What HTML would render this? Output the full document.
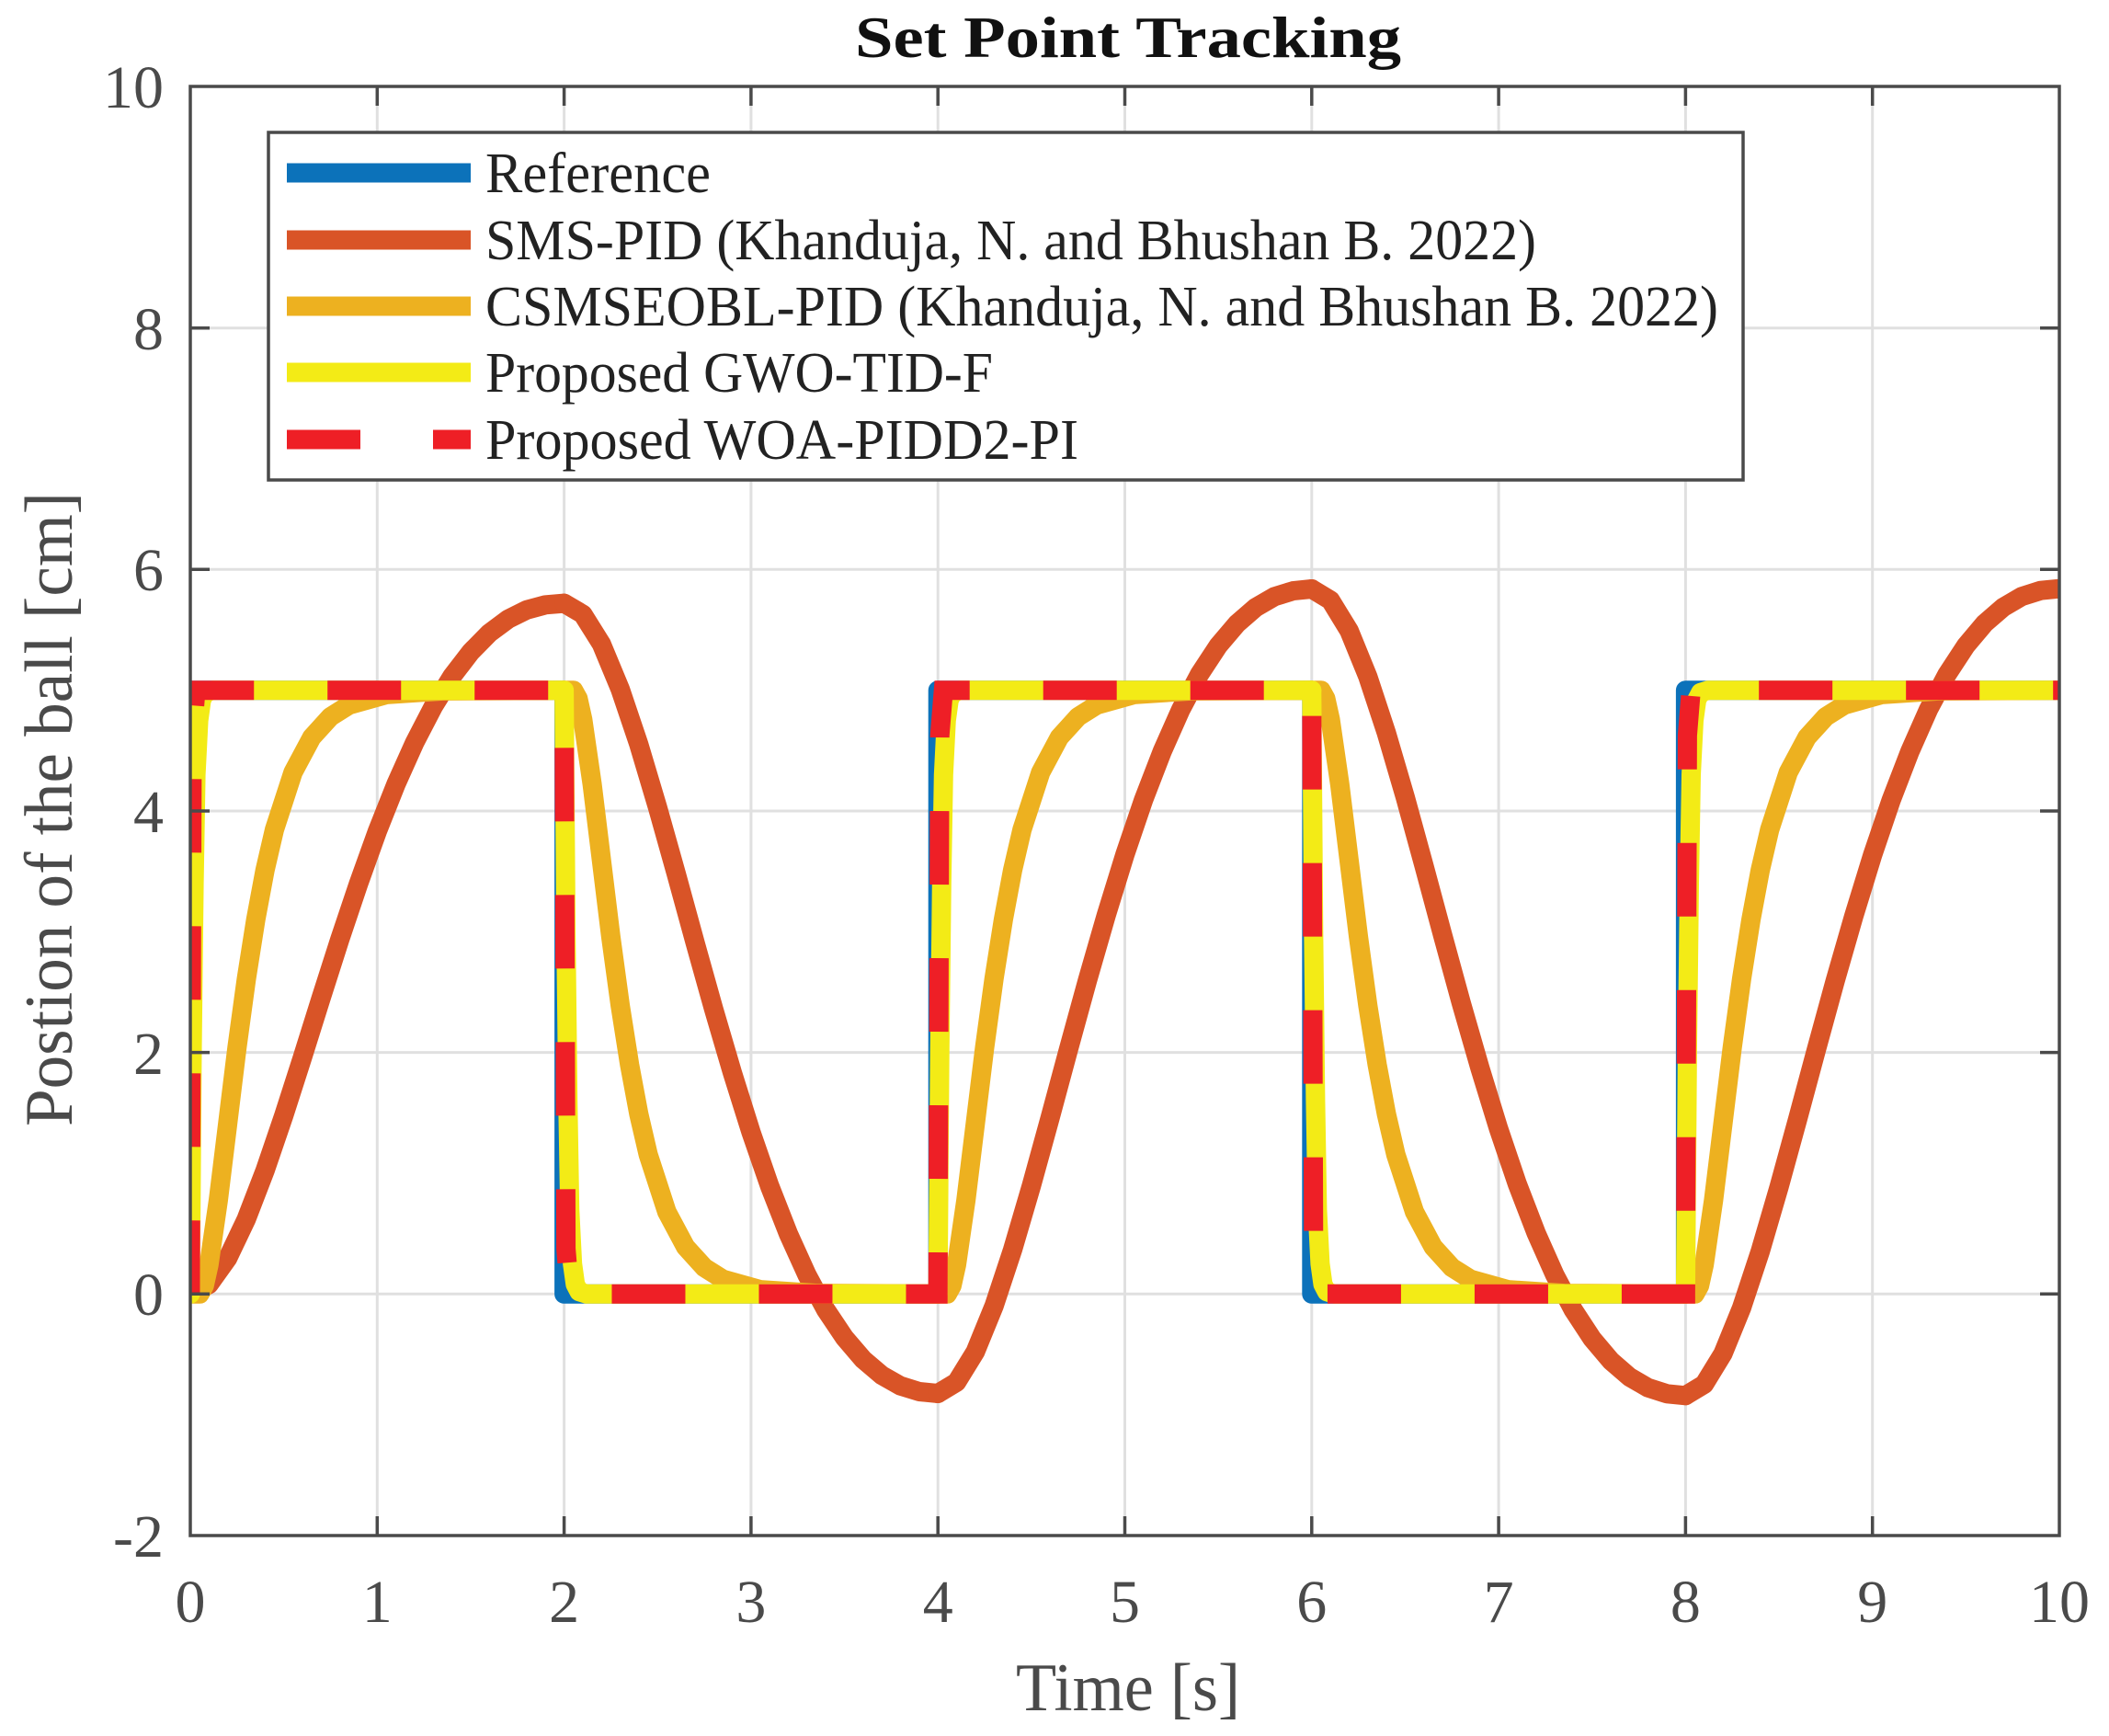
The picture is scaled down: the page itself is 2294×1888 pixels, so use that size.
<!DOCTYPE html>
<html><head><meta charset="utf-8"><style>
html,body{margin:0;padding:0;background:#fff;}
svg{display:block;}
text{font-family:"Liberation Serif","Times New Roman",serif;}
</style></head><body>
<svg width="2294" height="1888" viewBox="0 0 2294 1888" xmlns="http://www.w3.org/2000/svg">
<rect x="0" y="0" width="2294" height="1888" fill="#fff"/>
<defs>
<clipPath id="cp"><rect x="207" y="94" width="2033" height="1576"/></clipPath>
<path id="smsA" d="M0 1407.3 L20.3 1396.9 L40.7 1368.4 L61 1325.7 L81.3 1273 L101.7 1213.2 L122 1149.9 L142.3 1085.2 L162.6 1021.7 L183 961 L203.3 904.4 L223.6 853.2 L244 807.7 L264.3 768.5 L284.6 735.7 L305 709.1 L325.3 688.5 L345.6 673.4 L365.9 663.3 L386.3 657.8 L406.6 656.1"/>
<path id="csmR" d="M0 1407.3 L10.2 1407.3 L15.2 1398.4 L20.3 1375.3 L30.5 1305 L40.7 1221.7 L50.8 1139.2 L61 1064.5 L71.2 1000 L81.3 946.1 L91.5 902.3 L111.8 839.9 L132.1 801.9 L152.5 779.5 L172.8 766.7 L213.5 755.4 L274.5 751.4 L406.6 750.7"/>
<path id="csmF" d="M0 750.7 L10.2 750.7 L15.2 759.6 L20.3 782.7 L30.5 853 L40.7 936.3 L50.8 1018.8 L61 1093.5 L71.2 1158 L81.3 1211.9 L91.5 1255.7 L111.8 1318.1 L132.1 1356.1 L152.5 1378.5 L172.8 1391.3 L213.5 1402.6 L274.5 1406.6 L406.6 1407.3"/>
<path id="yR" d="M0 1407.3 L2 1144.6 L4.1 960.8 L6.1 842.6 L9.1 783.5 L12.2 761.2 L16.3 753.3 L24.4 750.7 L406.6 750.7"/>
<path id="yF" d="M0 750.7 L2 1013.4 L4.1 1197.2 L6.1 1315.4 L9.1 1374.5 L12.2 1396.8 L16.3 1404.7 L24.4 1407.3 L406.6 1407.3"/>
</defs>
<g stroke="#e0e0e0" stroke-width="3">
<line x1="410.3" y1="94" x2="410.3" y2="1670"/><line x1="613.6" y1="94" x2="613.6" y2="1670"/><line x1="816.9" y1="94" x2="816.9" y2="1670"/><line x1="1020.2" y1="94" x2="1020.2" y2="1670"/><line x1="1223.5" y1="94" x2="1223.5" y2="1670"/><line x1="1426.8" y1="94" x2="1426.8" y2="1670"/><line x1="1630.1" y1="94" x2="1630.1" y2="1670"/><line x1="1833.4" y1="94" x2="1833.4" y2="1670"/><line x1="2036.7" y1="94" x2="2036.7" y2="1670"/>
<line x1="207" y1="356.7" x2="2240" y2="356.7"/><line x1="207" y1="619.3" x2="2240" y2="619.3"/><line x1="207" y1="882" x2="2240" y2="882"/><line x1="207" y1="1144.6" x2="2240" y2="1144.6"/><line x1="207" y1="1407.3" x2="2240" y2="1407.3"/>
</g>
<g clip-path="url(#cp)" fill="none" stroke-width="21" stroke-linejoin="round">
<path d="M207 1407.3 V750.7 H613.6 V1407.3 H1020.2 V750.7 H1426.8 V1407.3 H1833.4 V750.7 H2240" stroke="#0C72BA"/>
<g stroke="#D95427" stroke-linecap="round">
<use href="#smsA" transform="translate(207,0)"/>
<path transform="translate(613.6,0)" d="M0 656.1 L20.3 668 L40.7 700.6 L61 749.5 L81.3 809.7 L101.7 878.2 L122 950.5 L142.3 1024.6 L162.6 1097.2 L183 1166.7 L203.3 1231.3 L223.6 1290 L244 1342 L264.3 1386.8 L284.6 1424.4 L305 1454.8 L325.3 1478.5 L345.6 1495.7 L365.9 1507.2 L386.3 1513.5 L406.6 1515.5"/>
<path transform="translate(1020.2,0)" d="M0 1515.5 L20.3 1503.3 L40.7 1470.1 L61 1420.4 L81.3 1359 L101.7 1289.4 L122 1215.7 L142.3 1140.3 L162.6 1066.4 L183 995.6 L203.3 929.8 L223.6 870 L244 817.1 L264.3 771.4 L284.6 733.2 L305 702.2 L325.3 678.3 L345.6 660.7 L365.9 648.9 L386.3 642.6 L406.6 640.5"/>
<path transform="translate(1426.8,0)" d="M0 640.5 L20.3 652.7 L40.7 686 L61 735.8 L81.3 797.4 L101.7 867.1 L122 941.1 L142.3 1016.6 L162.6 1090.8 L183 1161.7 L203.3 1227.8 L223.6 1287.7 L244 1340.7 L264.3 1386.4 L284.6 1424.8 L305 1455.9 L325.3 1479.9 L345.6 1497.5 L365.9 1509.3 L386.3 1515.8 L406.6 1517.8"/>
<path transform="translate(1833.4,0)" d="M0 1517.7 L20.3 1505.5 L40.7 1472.2 L61 1422.3 L81.3 1360.8 L101.7 1290.9 L122 1217 L142.3 1141.5 L162.6 1067.3 L183 996.4 L203.3 930.3 L223.6 870.4 L244 817.4 L264.3 771.5 L284.6 733.2 L305 702.1 L325.3 678 L345.6 660.4 L365.9 648.6 L386.3 642.2 L406.6 640.2"/>
</g>
<g stroke="#EDB120" stroke-linecap="round">
<use href="#csmR" transform="translate(207,0)"/>
<use href="#csmF" transform="translate(613.6,0)"/>
<use href="#csmR" transform="translate(1020.2,0)"/>
<use href="#csmF" transform="translate(1426.8,0)"/>
<use href="#csmR" transform="translate(1833.4,0)"/>
</g>
<g stroke="#F3EB16" stroke-linecap="round">
<use href="#yR" transform="translate(207,0)"/>
<use href="#yF" transform="translate(613.6,0)"/>
<use href="#yR" transform="translate(1020.2,0)"/>
<use href="#yF" transform="translate(1426.8,0)"/>
<use href="#yR" transform="translate(1833.4,0)"/>
</g>
<path d="M207 1407.3 L209 800 L213 750.7 L613.6 750.7 L615.6 1358 L619.6 1407.3 L1020.2 1407.3 L1022.2 800 L1026.2 750.7 L1426.8 750.7 L1428.8 1358 L1432.8 1407.3 L1833.4 1407.3 L1835.4 800 L1839.4 750.7 L2240 750.7" stroke="#EE1F26" stroke-dasharray="80 80" stroke-linejoin="miter"/>
</g>
<g stroke="#4a4a4a" stroke-width="3.5" fill="none">
<rect x="207" y="94" width="2033" height="1576"/>
<path d="M410.3 1670v-21M613.6 1670v-21M816.9 1670v-21M1020.2 1670v-21M1223.5 1670v-21M1426.8 1670v-21M1630.1 1670v-21M1833.4 1670v-21M2036.7 1670v-21M410.3 94v21M613.6 94v21M816.9 94v21M1020.2 94v21M1223.5 94v21M1426.8 94v21M1630.1 94v21M1833.4 94v21M2036.7 94v21"/>
<path d="M207 356.7h21M207 619.3h21M207 882h21M207 1144.6h21M207 1407.3h21M2240 356.7h-21M2240 619.3h-21M2240 882h-21M2240 1144.6h-21M2240 1407.3h-21"/>
</g>
<g fill="#4a4a4a" font-size="66" text-anchor="middle">
<text x="207" y="1764">0</text><text x="410.3" y="1764">1</text><text x="613.6" y="1764">2</text><text x="816.9" y="1764">3</text><text x="1020.2" y="1764">4</text><text x="1223.5" y="1764">5</text><text x="1426.8" y="1764">6</text><text x="1630.1" y="1764">7</text><text x="1833.4" y="1764">8</text><text x="2036.7" y="1764">9</text><text x="2240" y="1764">10</text>
</g>
<g fill="#4a4a4a" font-size="66" text-anchor="end">
<text x="178" y="117">10</text><text x="178" y="380">8</text><text x="178" y="642">6</text><text x="178" y="905">4</text><text x="178" y="1168">2</text><text x="178" y="1430">0</text><text x="178" y="1693">-2</text>
</g>
<text x="1227" y="62" text-anchor="middle" font-size="64" font-weight="bold" fill="#111" textLength="594" lengthAdjust="spacingAndGlyphs">Set Point Tracking</text>
<text x="1227" y="1860" text-anchor="middle" font-size="74" fill="#4a4a4a" textLength="244" lengthAdjust="spacingAndGlyphs">Time [s]</text>
<text transform="translate(78,880) rotate(-90)" text-anchor="middle" font-size="74" fill="#4a4a4a" textLength="690" lengthAdjust="spacingAndGlyphs">Postion of the ball [cm]</text>
<rect x="292" y="144" width="1604" height="378" fill="#fff" stroke="#4a4a4a" stroke-width="3.5"/>
<line x1="312" y1="188" x2="512" y2="188" stroke="#0C72BA" stroke-width="21"/>
<line x1="312" y1="261" x2="512" y2="261" stroke="#D95427" stroke-width="21"/>
<line x1="312" y1="333" x2="512" y2="333" stroke="#EDB120" stroke-width="21"/>
<line x1="312" y1="405" x2="512" y2="405" stroke="#F3EB16" stroke-width="21"/>
<line x1="312" y1="478" x2="512" y2="478" stroke="#EE1F26" stroke-width="21" stroke-dasharray="80 79"/>
<g font-size="62" fill="#222">
<text x="528" y="209" textLength="245" lengthAdjust="spacingAndGlyphs">Reference</text>
<text x="528" y="282" textLength="1143" lengthAdjust="spacingAndGlyphs">SMS-PID (Khanduja, N. and Bhushan B. 2022)</text>
<text x="528" y="354" textLength="1341" lengthAdjust="spacingAndGlyphs">CSMSEOBL-PID (Khanduja, N. and Bhushan B. 2022)</text>
<text x="528" y="426" textLength="552" lengthAdjust="spacingAndGlyphs">Proposed GWO-TID-F</text>
<text x="528" y="499" textLength="645" lengthAdjust="spacingAndGlyphs">Proposed WOA-PIDD2-PI</text>
</g>
</svg>
</body></html>
